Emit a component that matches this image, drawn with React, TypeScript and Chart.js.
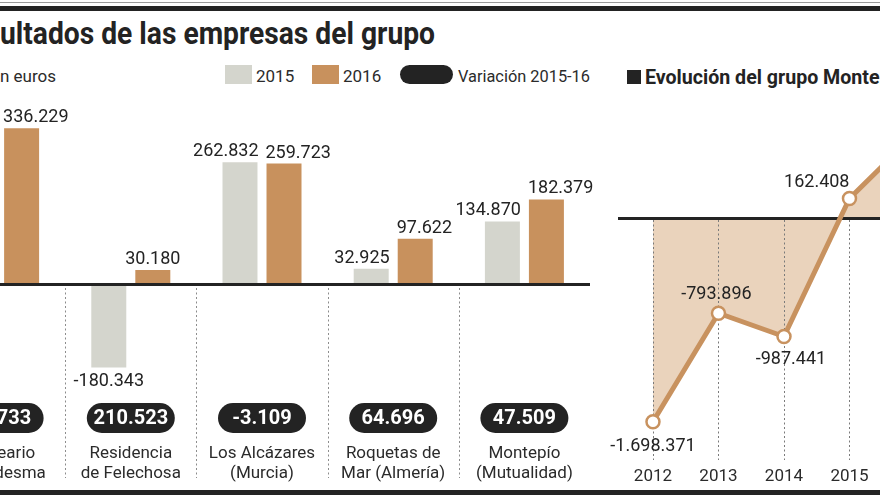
import React, { useEffect, useRef } from "react";
import { Chart, registerables } from "chart.js";

Chart.register(...registerables);

// ---------- data ----------
const companyLines: string[][] = [
  ["Balneario", "de Ledesma"],
  ["Residencia", "de Felechosa"],
  ["Los Alcázares", "(Murcia)"],
  ["Roquetas de", "Mar (Almería)"],
  ["Montepío", "(Mutualidad)"],
];
const results2015 = [239496, -180343, 262832, 32925, 134870];
const results2016 = [336229, 30180, 259723, 97622, 182379];
const variation = [96733, 210523, -3109, 64696, 47509];

const years = [2012, 2013, 2014, 2015, 2016];
const groupResults = [-1698371, -793896, -987441, 162408, 700000];

// ---------- style ----------
const GRAY = "#d4d5cd";
const ORANGE = "#c8915d";
const TAN = "#c8925f";
const FILL = "#ead3bc";
const INK = "#232323";
const FONT = "Roboto, 'Noto Sans', sans-serif";

const fmt = (v: number) =>
  (v < 0 ? "-" : "") + Math.abs(v).toString().replace(/\B(?=(\d{3})+(?!\d))/g, ".");

const barDecor = {
  id: "barDecor",
  beforeDatasetsDraw(chart: any) {
    const { ctx, chartArea, scales } = chart;
    const x = scales.x;
    const y = scales.y;
    const y0 = y.getPixelForValue(0);
    ctx.save();
    ctx.strokeStyle = "#8c8c8c";
    ctx.lineWidth = 1;
    ctx.setLineDash([2, 2.5]);
    for (let i = 1; i < companyLines.length; i++) {
      const sx = Math.round((x.getPixelForValue(i - 1) + x.getPixelForValue(i)) / 2) + 0.5;
      ctx.beginPath();
      ctx.moveTo(sx, y0 + 4);
      ctx.lineTo(sx, chartArea.bottom - 12);
      ctx.stroke();
    }
    ctx.restore();
  },
  afterDatasetsDraw(chart: any) {
    const { ctx, chartArea, scales } = chart;
    const x = scales.x;
    const y = scales.y;
    const y0 = y.getPixelForValue(0);
    ctx.save();
    // baseline
    ctx.fillStyle = INK;
    ctx.fillRect(chartArea.left, y0 - 1, chartArea.right - chartArea.left, 3);

    // value labels
    ctx.font = `18px ${FONT}`;
    ctx.fillStyle = INK;
    const m0 = chart.getDatasetMeta(0).data;
    const m1 = chart.getDatasetMeta(1).data;
    for (let i = 0; i < companyLines.length; i++) {
      const vals = [results2015[i], results2016[i]];
      const bars = [m0[i], m1[i]];
      const texts = vals.map(fmt);
      const widths = texts.map((t) => ctx.measureText(t).width);
      const cx = bars.map((b: any) => b.x);
      if (vals[0] >= 0 && vals[1] >= 0) {
        const d = cx[1] - cx[0];
        const shift = Math.max(0, (widths[0] / 2 + widths[1] / 2 + 7 - d) / 2);
        cx[0] -= shift;
        cx[1] += shift;
      }
      for (let k = 0; k < 2; k++) {
        ctx.textAlign = "center";
        if (vals[k] >= 0) {
          ctx.textBaseline = "alphabetic";
          ctx.fillText(texts[k], cx[k], bars[k].y - 6);
        } else {
          ctx.textBaseline = "top";
          ctx.fillText(texts[k], cx[k], bars[k].y + 5);
        }
      }
    }

    // variation pills and company names
    for (let i = 0; i < companyLines.length; i++) {
      const cx = x.getPixelForValue(i);
      const py = 313;
      const w = 88;
      const h = 30;
      ctx.fillStyle = INK;
      ctx.beginPath();
      ctx.roundRect(cx - w / 2, py, w, h, h / 2);
      ctx.fill();
      ctx.fillStyle = "#ffffff";
      ctx.font = `bold 20px ${FONT}`;
      ctx.textAlign = "center";
      ctx.textBaseline = "middle";
      ctx.fillText(fmt(variation[i]), cx, py + h / 2 + 1);

      ctx.fillStyle = "#2b2b2b";
      ctx.font = `17px ${FONT}`;
      ctx.textBaseline = "alphabetic";
      ctx.fillText(companyLines[i][0], cx, 368);
      ctx.fillText(companyLines[i][1], cx, 388);
    }
    ctx.restore();
  },
};

const labelPlace = [
  { dx: 0, dy: 29, align: "center" },
  { dx: -2, dy: -14, align: "center" },
  { dx: 7, dy: 28, align: "center" },
  { dx: 0, dy: -12, align: "right" },
  { dx: 0, dy: -14, align: "center" },
];

const lineDecor = {
  id: "lineDecor",
  beforeDatasetDraw(chart: any) {
    const { ctx, chartArea, scales } = chart;
    const x = scales.x;
    const y = scales.y;
    const y0 = y.getPixelForValue(0);
    ctx.save();
    ctx.fillStyle = INK;
    ctx.fillRect(chartArea.left, y0 - 1, chartArea.right - chartArea.left, 3);
    ctx.strokeStyle = "#7a7a7a";
    ctx.lineWidth = 1;
    ctx.setLineDash([2, 2.5]);
    years.forEach((yr) => {
      const px = Math.round(x.getPixelForValue(yr)) + 0.5;
      ctx.beginPath();
      ctx.moveTo(px, y0 + 2);
      ctx.lineTo(px, 370);
      ctx.stroke();
    });
    ctx.restore();
  },
  afterDatasetsDraw(chart: any) {
    const { ctx, scales } = chart;
    const x = scales.x;
    const meta = chart.getDatasetMeta(0).data;
    ctx.save();
    ctx.fillStyle = INK;
    ctx.font = `18px ${FONT}`;
    ctx.textBaseline = "alphabetic";
    groupResults.forEach((v, i) => {
      const p = meta[i];
      const pl = labelPlace[i];
      ctx.textAlign = pl.align as CanvasTextAlign;
      ctx.fillText(fmt(v), p.x + pl.dx, p.y + pl.dy);
    });
    ctx.font = `17px ${FONT}`;
    ctx.fillStyle = "#2b2b2b";
    ctx.textAlign = "center";
    years.forEach((yr) => {
      ctx.fillText(String(yr), x.getPixelForValue(yr), 391);
    });
    ctx.restore();
  },
};

export default function App() {
  const barRef = useRef<HTMLCanvasElement>(null);
  const lineRef = useRef<HTMLCanvasElement>(null);

  useEffect(() => {
    const bar = new Chart(barRef.current as HTMLCanvasElement, {
      type: "bar",
      data: {
        labels: companyLines.map((c) => c.join(" ")),
        datasets: [
          { label: "2015", data: results2015, backgroundColor: GRAY, categoryPercentage: 0.671, barPercentage: 0.795 },
          { label: "2016", data: results2016, backgroundColor: ORANGE, categoryPercentage: 0.671, barPercentage: 0.795 },
        ],
      },
      options: {
        animation: false,
        responsive: false,
        maintainAspectRatio: false,
        layout: { padding: { left: 0, top: 0, bottom: 0, right: 40 }, autoPadding: false },
        plugins: { legend: { display: false }, tooltip: { enabled: false } },
        scales: {
          x: { display: false },
          y: { display: false, min: -444400, max: 418500 },
        },
      },
      plugins: [barDecor],
    } as any);

    const line = new Chart(lineRef.current as HTMLCanvasElement, {
      type: "line",
      data: {
        datasets: [
          {
            data: years.map((yr, i) => ({ x: yr, y: groupResults[i] })),
            borderColor: TAN,
            borderWidth: 5,
            fill: "origin",
            backgroundColor: FILL,
            pointRadius: 6.5,
            pointBorderWidth: 2.5,
            pointBackgroundColor: "#ffffff",
            pointBorderColor: TAN,
            tension: 0,
            clip: false,
          },
        ],
      },
      options: {
        animation: false,
        responsive: false,
        maintainAspectRatio: false,
        layout: { padding: { left: 18, right: 0, top: 0, bottom: 0 }, autoPadding: false },
        plugins: { legend: { display: false }, tooltip: { enabled: false } },
        scales: {
          x: { type: "linear", display: false, min: 2011.466, max: 2016.504 },
          y: { display: false, min: -2266667, max: 1066667 },
        },
      },
      plugins: [lineDecor],
    } as any);

    return () => {
      bar.destroy();
      line.destroy();
    };
  }, []);

  return (
    <div
      style={{
        position: "fixed",
        left: 0,
        top: 0,
        width: 880,
        height: 495,
        overflow: "hidden",
        background: "#ffffff",
      }}
    >
      <svg width={880} height={495} style={{ position: "absolute", left: 0, top: 0 }}>
        <rect x={0} y={2} width={880} height={1} fill="#9a9a9a" />
        <rect x={0} y={6} width={880} height={5} fill={INK} />
        <text x={0} y={44} fontFamily={FONT} fontWeight={700} fontSize={32} fill={INK} textLength={435} lengthAdjust="spacingAndGlyphs">
          ultados de las empresas del grupo
        </text>
        <text x={0} y={82} fontFamily={FONT} fontSize={17} fill="#2b2b2b">n euros</text>
        <rect x={225} y={65} width={27} height={19} fill={GRAY} />
        <text x={256} y={82} fontFamily={FONT} fontSize={17} fill="#2b2b2b">2015</text>
        <rect x={312} y={65} width={27} height={19} fill={ORANGE} />
        <text x={343} y={82} fontFamily={FONT} fontSize={17} fill="#2b2b2b">2016</text>
        <rect x={400} y={65} width={53} height={19} rx={9.5} fill={INK} />
        <text x={458} y={82} fontFamily={FONT} fontSize={17} fill="#2b2b2b" textLength={132} lengthAdjust="spacingAndGlyphs">Variación 2015-16</text>
        <rect x={627} y={70} width={14} height={14} fill={INK} />
        <text x={645} y={84} fontFamily={FONT} fontWeight={700} fontSize={20} fill={INK} textLength={262} lengthAdjust="spacingAndGlyphs">
          Evolución del grupo Montepío
        </text>
        <rect x={0} y={490} width={880} height={5} fill={INK} />
      </svg>
      <canvas ref={barRef} width={696} height={400} style={{ position: "absolute", left: -66, top: 90 }} />
      <canvas ref={lineRef} width={348} height={400} style={{ position: "absolute", left: 600, top: 90 }} />
    </div>
  );
}
